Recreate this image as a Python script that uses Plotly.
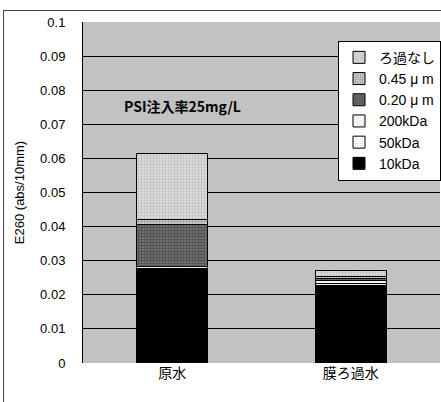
import plotly.graph_objects as go

categories = ["原水", "膜ろ過水"]
series_names = ["10kDa", "50kDa", "200kDa", "0.20 μ m", "0.45 μ m", "ろ過なし"]
v_10kda = [0.0273, 0.0227]
v_50kda = [0.0005, 0.0006]
v_200kda = [0.0006, 0.0010]
v_020um = [0.0121, 0.0005]
v_045um = [0.0017, 0.0007]
v_none = [0.0192, 0.0015]
y_ticks = [0, 0.01, 0.02, 0.03, 0.04, 0.05, 0.06, 0.07, 0.08, 0.09, 0.1]
y_ticktext = ["0", "0.01", "0.02", "0.03", "0.04", "0.05", "0.06", "0.07", "0.08", "0.09", "0.1"]

values = [v_10kda, v_50kda, v_200kda, v_020um, v_045um, v_none]
styles = [
    dict(color="#000000", pattern=None),
    dict(color="#ffffff", pattern=dict(shape=".", fgcolor="#bbbbbb", bgcolor="#ffffff", size=3, solidity=0.3)),
    dict(color="#f4f4f4", pattern=None),
    dict(color="#555555", pattern=dict(shape=".", fgcolor="#222222", bgcolor="#777777", size=3, solidity=0.5)),
    dict(color="#aaaaaa", pattern=dict(shape=".", fgcolor="#555555", bgcolor="#dddddd", size=3, solidity=0.5)),
    dict(color="#cccccc", pattern=dict(shape=".", fgcolor="#999999", bgcolor="#e0e0e0", size=3, solidity=0.45)),
]

fig = go.Figure()
for name, vals, st in zip(series_names, values, styles):
    marker = dict(color=st["color"], line=dict(color="#000000", width=1))
    if st["pattern"] is not None:
        marker["pattern"] = st["pattern"]
    fig.add_trace(go.Bar(x=categories, y=vals, name=name, marker=marker, width=0.4))

fig.update_layout(
    barmode="stack",
    width=441, height=402,
    margin=dict(l=83, r=0, t=22, b=39),
    paper_bgcolor="#ffffff",
    plot_bgcolor="#c2c2c2",
    font=dict(family="Liberation Sans, Noto Sans CJK JP, sans-serif", size=12, color="#000000"),
    showlegend=True,
    legend=dict(
        x=0.715, y=0.945, xanchor="left", yanchor="top",
        traceorder="reversed",
        bgcolor="#ffffff", bordercolor="#000000", borderwidth=1,
        font=dict(size=14, family="Liberation Sans, Noto Sans CJK JP, sans-serif"),
        itemwidth=30, tracegroupgap=0,
    ),
    xaxis=dict(
        showgrid=False, showline=False, ticks="",
        tickfont=dict(size=14, family="Noto Sans CJK JP, sans-serif"),
        range=[-0.5, 1.5],
    ),
    yaxis=dict(
        range=[0, 0.1], tickvals=y_ticks, ticktext=y_ticktext,
        showgrid=True, gridcolor="#000000", gridwidth=1,
        showline=True, linecolor="#000000", linewidth=1,
        ticks="", ticklabelstandoff=14,
        tickfont=dict(size=13),
        zeroline=False,
        title=dict(text="E260 (abs/10mm)", font=dict(size=13), standoff=12),
    ),
    annotations=[
        dict(text="<b>PSI注入率25mg/L</b>", x=0.279, y=0.754, xref="paper", yref="paper",
             xanchor="center", yanchor="middle",
             showarrow=False, font=dict(size=14, family="Noto Sans CJK JP, sans-serif", color="#000000")),
        dict(text="", x=3, y=10, xref="paper", yref="paper", showarrow=False),
    ],
)
# outer frame drawn as an empty bordered annotation in pixel terms
fig.layout.annotations[1].update(
    x=-0.2235, y=1.035, xanchor="left", yanchor="top",
    width=460, height=420, bordercolor="#444444", borderwidth=1, borderpad=0,
    text=" ",
)

fig.write_html("out.html")
